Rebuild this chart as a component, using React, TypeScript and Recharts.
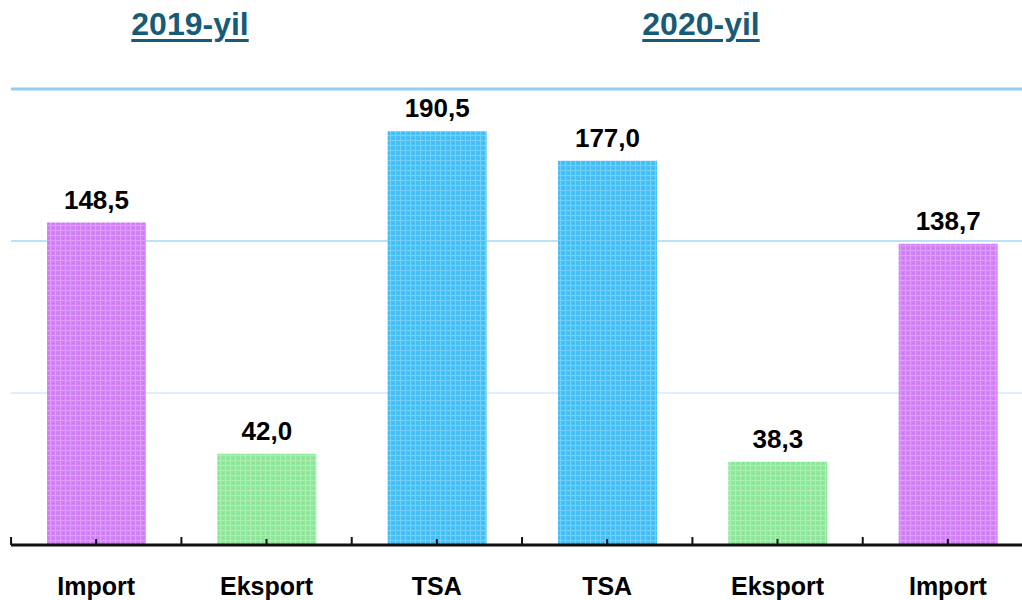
import { BarChart, Bar, XAxis, YAxis, Cell, LabelList, CartesianGrid } from 'recharts'

const TITLES = ['2019-yil', '2020-yil']
const CATEGORIES = ['Import', 'Eksport', 'TSA', 'TSA', 'Eksport', 'Import']
const VALUES = [148.5, 42.0, 190.5, 177.0, 38.3, 138.7]
const Y_TICKS = [70, 140, 210]

const data = CATEGORIES.map((name, i) => ({ name, value: VALUES[i] }))

const FONT = '"Liberation Sans", Arial, sans-serif'
const PATTERN_ID: Record<string, string> = { Import: 'patImport', Eksport: 'patEksport', TSA: 'patTSA' }
const GRID_COLORS = ['#dcefff', '#b9e2f9', '#8ecff5']

const Pattern = ({ id, base, light, dot }) => (
  <pattern id={id} width={5} height={5} patternUnits="userSpaceOnUse">
    <rect width={5} height={5} fill={base} />
    <rect width={5} height={1} fill={light} />
    <rect width={1} height={5} fill={light} />
    <rect x={3} y={3} width={1} height={1} fill={dot} />
  </pattern>
)

const BAND = 170.2

const Tick = (props) => {
  const { x, y, payload, index } = props
  const axisY = y - 8
  return (
    <g>
      <line x1={x} x2={x} y1={axisY} y2={axisY - 6} stroke="#111" strokeWidth={2} />
      <line x1={x - BAND / 2} x2={x - BAND / 2} y1={axisY} y2={axisY - 8} stroke="#111" strokeWidth={2} />
      {index === CATEGORIES.length - 1 && (
        <line x1={x + BAND / 2} x2={x + BAND / 2} y1={axisY} y2={axisY - 8} stroke="#111" strokeWidth={2} />
      )}
      <text x={x} y={axisY + 50} textAnchor="middle" fontFamily={FONT} fontWeight="bold" fontSize={25} fill="#000">
        {payload.value}
      </text>
    </g>
  )
}

export default function App() {
  return (
    <div style={{ position: 'absolute', left: 0, top: 0, width: 1022, height: 600, overflow: 'hidden', background: '#fff' }}>
      <BarChart width={1033} height={600} data={data} margin={{ top: 89, right: 0, left: 11, bottom: 0 }} barCategoryGap={0}>
        <defs>
          <Pattern id="patImport" base="#d381f6" light="#de9ef9" dot="#c56ef0" />
          <Pattern id="patEksport" base="#90e99b" light="#aaf0b2" dot="#80dd8c" />
          <Pattern id="patTSA" base="#47c1f5" light="#72d1f8" dot="#36b4ee" />
        </defs>
        {Y_TICKS.map((t, i) => (
          <CartesianGrid
            key={t}
            vertical={false}
            horizontalValues={[t]}
            stroke={GRID_COLORS[i]}
            strokeWidth={i === 2 ? 3 : 2}
          />
        ))}
        <XAxis
          dataKey="name"
          height={55}
          axisLine={{ stroke: '#111', strokeWidth: 3 }}
          tickLine={false}
          tick={<Tick />}
          interval={0}
        />
        <YAxis hide domain={[0, 210]} ticks={Y_TICKS} />
        <Bar dataKey="value" barSize={99} isAnimationActive={false}>
          {data.map((d, i) => (
            <Cell key={i} fill={`url(#${PATTERN_ID[d.name]})`} />
          ))}
          <LabelList
            dataKey="value"
            position="top"
            offset={14}
            formatter={(v) => Number(v).toFixed(1).replace('.', ',')}
            style={{ fontFamily: FONT, fontWeight: 'bold', fontSize: 26, fill: '#000' }}
          />
        </Bar>
      </BarChart>
      {TITLES.map((t, i) => (
        <div
          key={t}
          style={{
            position: 'absolute',
            top: 6,
            left: i === 0 ? 190 : 701,
            transform: 'translateX(-50%)',
            fontFamily: FONT,
            fontWeight: 'bold',
            fontSize: 32,
            color: '#175b79',
            textDecoration: 'underline',
            textDecorationThickness: 3,
            textUnderlineOffset: 4,
            whiteSpace: 'nowrap',
          }}
        >
          {t}
        </div>
      ))}
    </div>
  )
}
